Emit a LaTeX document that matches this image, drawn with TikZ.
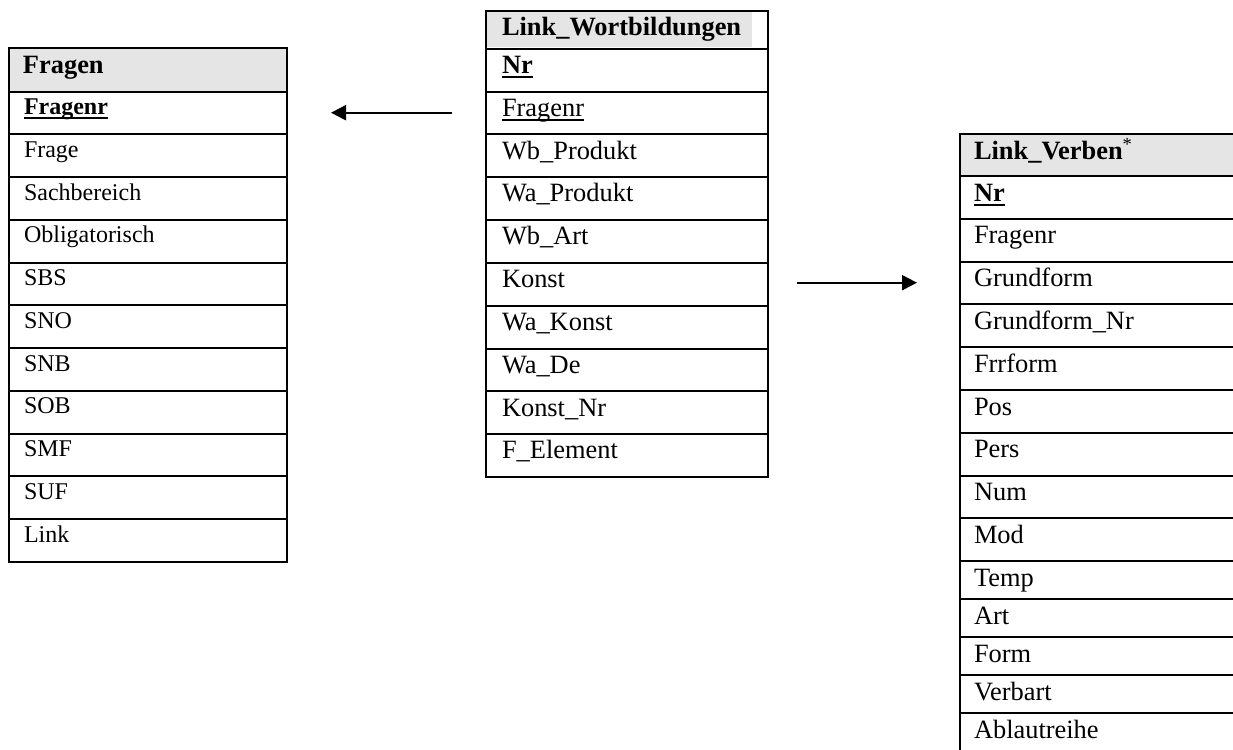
\documentclass[tikz,border=0pt]{standalone}
\usepackage{fontspec}
\setmainfont{Liberation Serif}
\usetikzlibrary{arrows.meta}
\newcommand\ulx[1]{\setbox0\hbox{#1}\rlap{\rule[-4.5pt]{\wd0}{1.8pt}}\box0}
\tikzset{
  x=1pt, y=-1pt,
  cellbase/.style={draw, line width=2pt, anchor=north west, inner ysep=0pt, align=left},
  lfont/.style={font=\fontsize{24}{28}\selectfont},
  mfont/.style={font=\fontsize{26.4}{31}\selectfont},
  lhead/.style={cellbase, mfont, fill=gray!20, inner xsep=14pt, text width=250pt, text height=26pt, text depth=18pt},
  lcell/.style={cellbase, lfont, inner xsep=15pt, text width=248pt, text height=23pt, text depth=19.75pt},
  mhead/.style={cellbase, mfont, inner xsep=16pt, text width=250pt, text height=24.3pt, text depth=13.4pt},
  mcell/.style={cellbase, mfont, inner xsep=16pt, text width=250pt, text height=24.7pt, text depth=18.13pt},
  rhead/.style={cellbase, mfont, fill=gray!20, inner xsep=14pt, text width=272pt, text height=25.6pt, text depth=16.7pt},
  rcell/.style={cellbase, mfont, inner xsep=14pt, text width=272pt, text height=25pt, text depth=17.8pt},
  rshort/.style={cellbase, mfont, inner xsep=14pt, text width=272pt, text height=25.5pt, text depth=12.5pt},
  conn/.style={line width=2pt, -{Triangle[length=15pt,width=15pt]}}
}
\begin{document}
\begin{tikzpicture}
\useasboundingbox (0,0) rectangle (1233,749);
\clip (0,0) rectangle (1233,749);
% Fragen
\node[lhead] (f0) at (8,46.7) {\textbf{Fragen}};
\foreach \t [count=\i] in {\ulx{\textbf{Fragenr}},Frage,Sachbereich,Obligatorisch,SBS,SNO,SNB,SOB,SMF,SUF,Link}
  \node[lcell] (f\i) at (8,{90.7+(\i-1)*42.75}) {\t};
% Link_Wortbildungen
\fill[gray!20] (486,11) rectangle (752,47);
\node[mhead] (w0) at (485,10) {\textbf{Link\_Wortbildungen}};
\foreach \t [count=\i] in {\ulx{\textbf{Nr}},\ulx{Fragenr},Wb\_Produkt,Wa\_Produkt,Wb\_Art,Konst,Wa\_Konst,Wa\_De,Konst\_Nr,F\_Element}
  \node[mcell] (w\i) at (485,{47.7+(\i-1)*42.83}) {\t};
% Link_Verben
\node[rhead] (v0) at (959,132.7) {\textbf{Link\_Verben}\textsuperscript{*}};
\foreach \t [count=\i] in {\ulx{\textbf{Nr}},Fragenr,Grundform,Grundform\_Nr,Frrform,Pos,Pers,Num,Mod}
  \node[rcell] (v\i) at (959,{175+(\i-1)*42.8}) {\t};
\foreach \t [count=\i from 10] in {Temp,Art,Form,Verbart,Ablautreihe}
  \node[rshort] (v\i) at (959,{560.2+(\i-10)*38}) {\t};
% connectors
\coordinate (a1s) at (452,112.7);
\coordinate (a1e) at (331,112.7);
\coordinate (a2s) at (797,282.7);
\coordinate (a2e) at (917,282.7);
\draw[conn] (a1s) -- (a1e);
\draw[conn] (a2s) -- (a2e);
\end{tikzpicture}
\end{document}
